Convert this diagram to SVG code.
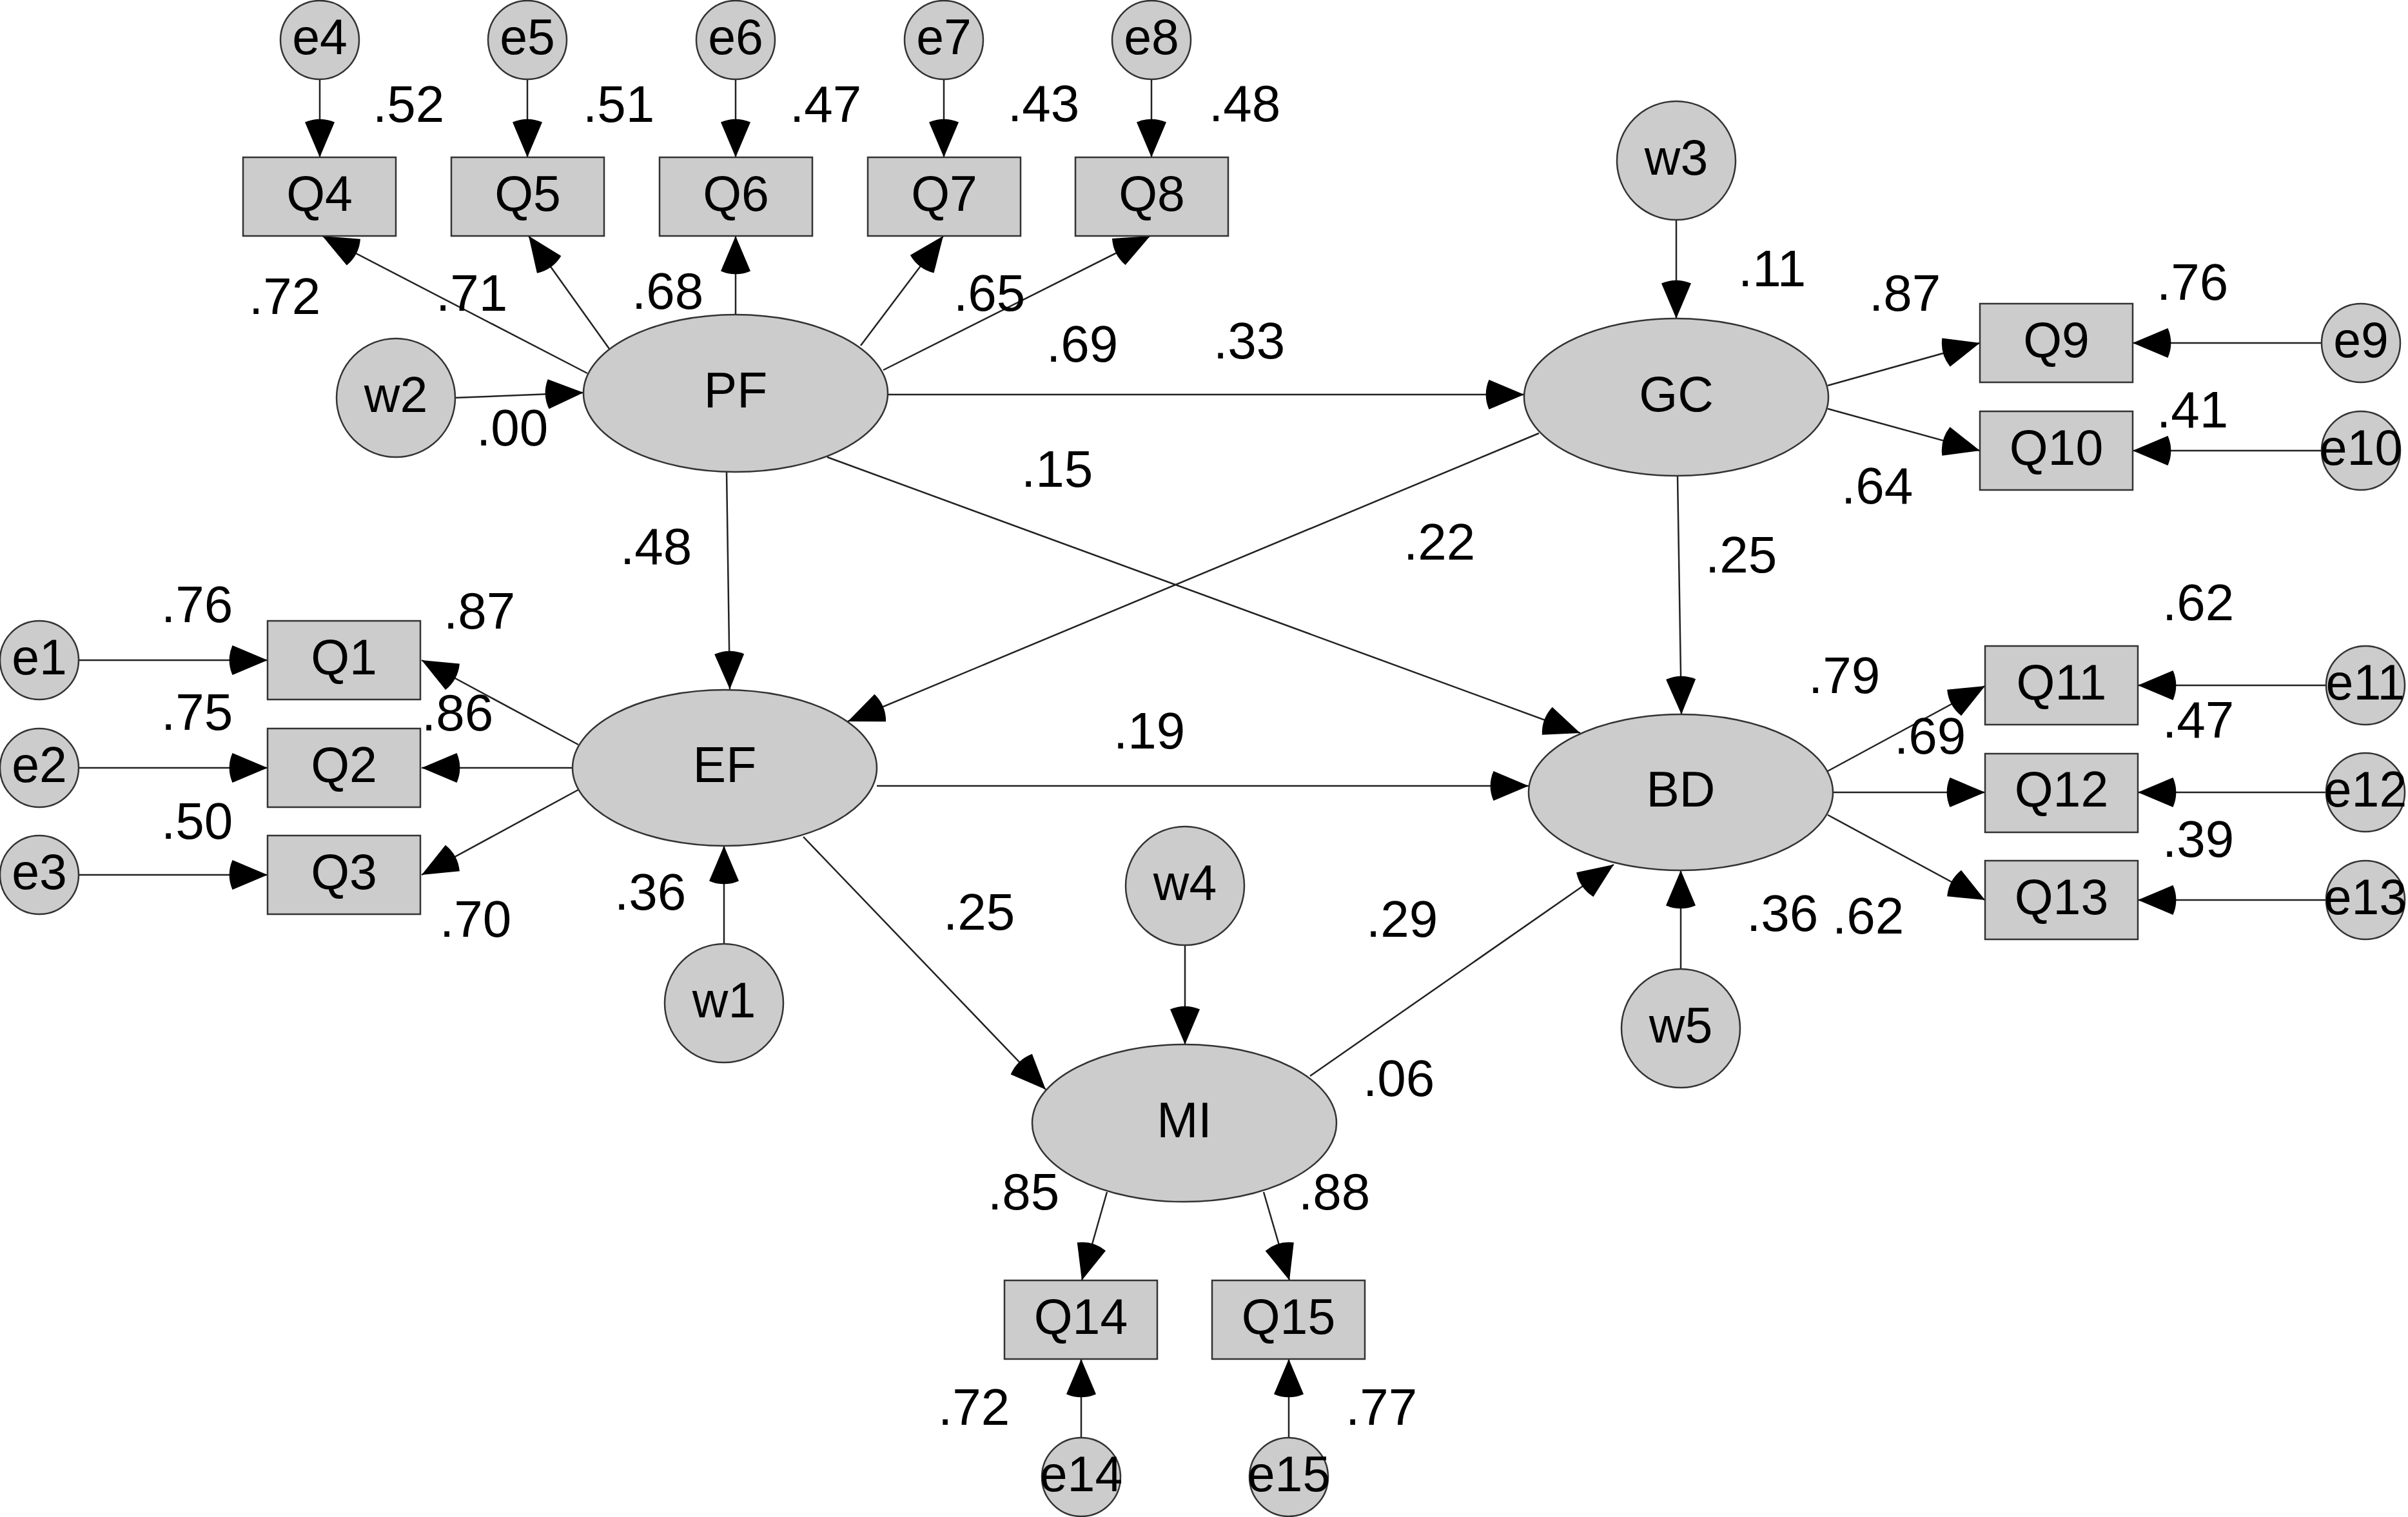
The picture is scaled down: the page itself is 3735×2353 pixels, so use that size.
<svg xmlns="http://www.w3.org/2000/svg" width="3735" height="2353" viewBox="0 0 3735 2353">
<style>
.n{fill:#cccccc;stroke:#333333;stroke-width:2.5}
.t{font-family:"Liberation Sans",Arial,sans-serif;font-size:77px;text-anchor:middle;fill:#000}
.l{font-family:"Liberation Sans",Arial,sans-serif;font-size:80px;fill:#000}
.c{stroke:#222222;stroke-width:2.5;fill:none;marker-end:url(#ah)}
</style>
<defs>
<marker id="ah" markerUnits="userSpaceOnUse" markerWidth="70" markerHeight="60" refX="0" refY="0" orient="auto" overflow="visible">
<path d="M0,0 L-54.5,-23 A59,59 0 0 0 -54.5,23 Z" fill="#000"/>
</marker>
</defs>
<rect width="3735" height="2353" fill="#fff"/>

<g id="connectors">
<line class="c" x1="496" y1="123" x2="496" y2="244"/>
<line class="c" x1="818" y1="123" x2="818" y2="244"/>
<line class="c" x1="1141" y1="123" x2="1141" y2="244"/>
<line class="c" x1="1464" y1="123" x2="1464" y2="244"/>
<line class="c" x1="1786" y1="123" x2="1786" y2="244"/>
<line class="c" x1="911" y1="579" x2="500" y2="366"/>
<line class="c" x1="945" y1="541" x2="820" y2="366"/>
<line class="c" x1="1141" y1="487" x2="1141" y2="366"/>
<line class="c" x1="1335" y1="536" x2="1463" y2="366"/>
<line class="c" x1="1370" y1="574" x2="1784" y2="366"/>
<line class="c" x1="705" y1="617" x2="905" y2="609"/>
<line class="c" x1="1378" y1="612" x2="2364" y2="612"/>
<line class="c" x1="1127" y1="732" x2="1132" y2="1069"/>
<line class="c" x1="1283" y1="709" x2="2451" y2="1137"/>
<line class="c" x1="2600" y1="341" x2="2600" y2="494"/>
<line class="c" x1="2835" y1="598" x2="3071" y2="532"/>
<line class="c" x1="2835" y1="634" x2="3071" y2="699"/>
<line class="c" x1="3601" y1="532" x2="3308" y2="532"/>
<line class="c" x1="3601" y1="699" x2="3308" y2="699"/>
<line class="c" x1="2602" y1="738" x2="2608" y2="1108"/>
<line class="c" x1="2387" y1="672" x2="1315" y2="1119"/>
<line class="c" x1="897" y1="1155" x2="654" y2="1024"/>
<line class="c" x1="889" y1="1191" x2="654" y2="1191"/>
<line class="c" x1="897" y1="1225" x2="654" y2="1357"/>
<line class="c" x1="122" y1="1024" x2="415" y2="1024"/>
<line class="c" x1="122" y1="1191" x2="415" y2="1191"/>
<line class="c" x1="122" y1="1357" x2="415" y2="1357"/>
<line class="c" x1="1123" y1="1464" x2="1123" y2="1312"/>
<line class="c" x1="1360" y1="1219" x2="2371" y2="1219"/>
<line class="c" x1="1246" y1="1298" x2="1622" y2="1690"/>
<line class="c" x1="1838" y1="1466" x2="1838" y2="1620"/>
<line class="c" x1="2032" y1="1669" x2="2503" y2="1341"/>
<line class="c" x1="2835" y1="1196" x2="3079" y2="1064"/>
<line class="c" x1="2843" y1="1229" x2="3079" y2="1229"/>
<line class="c" x1="2835" y1="1264" x2="3079" y2="1396"/>
<line class="c" x1="3608" y1="1063" x2="3316" y2="1063"/>
<line class="c" x1="3608" y1="1229" x2="3316" y2="1229"/>
<line class="c" x1="3608" y1="1396" x2="3316" y2="1396"/>
<line class="c" x1="2607" y1="1503" x2="2607" y2="1350"/>
<line class="c" x1="1717" y1="1849" x2="1678" y2="1986"/>
<line class="c" x1="1960" y1="1849" x2="2000" y2="1986"/>
<line class="c" x1="1677" y1="2230" x2="1677" y2="2108"/>
<line class="c" x1="1999" y1="2230" x2="1999" y2="2108"/>
</g>

<g id="PF"><ellipse class="n" cx="1141" cy="610" rx="236" ry="122"/><text class="t" x="1141" y="632">PF</text></g>
<g id="EF"><ellipse class="n" cx="1124" cy="1191" rx="236" ry="121"/><text class="t" x="1124" y="1213">EF</text></g>
<g id="GC"><ellipse class="n" cx="2600" cy="616" rx="236" ry="122"/><text class="t" x="2600" y="638">GC</text></g>
<g id="BD"><ellipse class="n" cx="2607" cy="1229" rx="236" ry="121"/><text class="t" x="2607" y="1251">BD</text></g>
<g id="MI"><ellipse class="n" cx="1837" cy="1742" rx="236" ry="122"/><text class="t" x="1837" y="1764">MI</text></g>

<g id="w1"><circle class="n" cx="1123" cy="1556" r="92"/><text class="t" x="1123" y="1578">w1</text></g>
<g id="w2"><circle class="n" cx="614" cy="617" r="92"/><text class="t" x="614" y="639">w2</text></g>
<g id="w3"><circle class="n" cx="2600" cy="249" r="92"/><text class="t" x="2600" y="271">w3</text></g>
<g id="w4"><circle class="n" cx="1838" cy="1374" r="92"/><text class="t" x="1838" y="1396">w4</text></g>
<g id="w5"><circle class="n" cx="2607" cy="1595" r="92"/><text class="t" x="2607" y="1617">w5</text></g>

<g id="Q1"><rect class="n" x="415" y="963" width="237" height="122"/><text class="t" x="533.5" y="1046">Q1</text></g>
<g id="Q2"><rect class="n" x="415" y="1130" width="237" height="122"/><text class="t" x="533.5" y="1213">Q2</text></g>
<g id="Q3"><rect class="n" x="415" y="1296" width="237" height="122"/><text class="t" x="533.5" y="1379">Q3</text></g>
<g id="Q4"><rect class="n" x="377" y="244" width="237" height="122"/><text class="t" x="495.5" y="327">Q4</text></g>
<g id="Q5"><rect class="n" x="700" y="244" width="237" height="122"/><text class="t" x="818.5" y="327">Q5</text></g>
<g id="Q6"><rect class="n" x="1023" y="244" width="237" height="122"/><text class="t" x="1141.5" y="327">Q6</text></g>
<g id="Q7"><rect class="n" x="1346" y="244" width="237" height="122"/><text class="t" x="1464.5" y="327">Q7</text></g>
<g id="Q8"><rect class="n" x="1668" y="244" width="237" height="122"/><text class="t" x="1786.5" y="327">Q8</text></g>
<g id="Q9"><rect class="n" x="3071" y="471" width="237" height="122"/><text class="t" x="3189.5" y="554">Q9</text></g>
<g id="Q10"><rect class="n" x="3071" y="638" width="237" height="122"/><text class="t" x="3189.5" y="721">Q10</text></g>
<g id="Q11"><rect class="n" x="3079" y="1002" width="237" height="122"/><text class="t" x="3197.5" y="1085">Q11</text></g>
<g id="Q12"><rect class="n" x="3079" y="1169" width="237" height="122"/><text class="t" x="3197.5" y="1251">Q12</text></g>
<g id="Q13"><rect class="n" x="3079" y="1335" width="237" height="122"/><text class="t" x="3197.5" y="1418">Q13</text></g>
<g id="Q14"><rect class="n" x="1558" y="1986" width="237" height="122"/><text class="t" x="1676.5" y="2069">Q14</text></g>
<g id="Q15"><rect class="n" x="1880" y="1986" width="237" height="122"/><text class="t" x="1998.5" y="2069">Q15</text></g>

<g id="e1"><circle class="n" cx="61" cy="1024" r="61"/><text class="t" x="61" y="1046">e1</text></g>
<g id="e2"><circle class="n" cx="61" cy="1191" r="61"/><text class="t" x="61" y="1213">e2</text></g>
<g id="e3"><circle class="n" cx="61" cy="1357" r="61"/><text class="t" x="61" y="1379">e3</text></g>
<g id="e4"><circle class="n" cx="496" cy="62" r="61"/><text class="t" x="496" y="84">e4</text></g>
<g id="e5"><circle class="n" cx="818" cy="62" r="61"/><text class="t" x="818" y="84">e5</text></g>
<g id="e6"><circle class="n" cx="1141" cy="62" r="61"/><text class="t" x="1141" y="84">e6</text></g>
<g id="e7"><circle class="n" cx="1464" cy="62" r="61"/><text class="t" x="1464" y="84">e7</text></g>
<g id="e8"><circle class="n" cx="1786" cy="62" r="61"/><text class="t" x="1786" y="84">e8</text></g>
<g id="e9"><circle class="n" cx="3662" cy="532" r="61"/><text class="t" x="3662" y="554">e9</text></g>
<g id="e10"><circle class="n" cx="3662" cy="699" r="61"/><text class="t" x="3662" y="721">e10</text></g>
<g id="e11"><circle class="n" cx="3669" cy="1063" r="61"/><text class="t" x="3669" y="1085">e11</text></g>
<g id="e12"><circle class="n" cx="3669" cy="1229" r="61"/><text class="t" x="3669" y="1251">e12</text></g>
<g id="e13"><circle class="n" cx="3669" cy="1396" r="61"/><text class="t" x="3669" y="1418">e13</text></g>
<g id="e14"><circle class="n" cx="1677" cy="2291" r="61"/><text class="t" x="1677" y="2313">e14</text></g>
<g id="e15"><circle class="n" cx="1999" cy="2291" r="61"/><text class="t" x="1999" y="2313">e15</text></g>

<g id="labels">
<text class="l" x="578" y="189">.52</text>
<text class="l" x="904" y="189">.51</text>
<text class="l" x="1225" y="189">.47</text>
<text class="l" x="1563" y="188">.43</text>
<text class="l" x="1875" y="188">.48</text>
<text class="l" x="386" y="487">.72</text>
<text class="l" x="676" y="482">.71</text>
<text class="l" x="980" y="479">.68</text>
<text class="l" x="1479" y="482">.65</text>
<text class="l" x="739" y="691">.00</text>
<text class="l" x="1623" y="561">.69</text>
<text class="l" x="1882" y="556">.33</text>
<text class="l" x="1584" y="755">.15</text>
<text class="l" x="962" y="875">.48</text>
<text class="l" x="2696" y="444">.11</text>
<text class="l" x="2899" y="482">.87</text>
<text class="l" x="3345" y="465">.76</text>
<text class="l" x="3345" y="663">.41</text>
<text class="l" x="2856" y="781">.64</text>
<text class="l" x="2645" y="888">.25</text>
<text class="l" x="2177" y="868">.22</text>
<text class="l" x="3354" y="962">.62</text>
<text class="l" x="250" y="965">.76</text>
<text class="l" x="688" y="975">.87</text>
<text class="l" x="250" y="1132">.75</text>
<text class="l" x="654" y="1133">.86</text>
<text class="l" x="250" y="1301">.50</text>
<text class="l" x="682" y="1453">.70</text>
<text class="l" x="953" y="1411">.36</text>
<text class="l" x="1727" y="1161">.19</text>
<text class="l" x="2805" y="1075">.79</text>
<text class="l" x="2938" y="1169">.69</text>
<text class="l" x="3354" y="1144">.47</text>
<text class="l" x="3354" y="1329">.39</text>
<text class="l" x="2709" y="1444">.36</text>
<text class="l" x="2842" y="1448">.62</text>
<text class="l" x="1463" y="1442">.25</text>
<text class="l" x="2119" y="1453">.29</text>
<text class="l" x="2114" y="1700">.06</text>
<text class="l" x="1532" y="1876">.85</text>
<text class="l" x="2014" y="1876">.88</text>
<text class="l" x="1455" y="2210">.72</text>
<text class="l" x="2087" y="2210">.77</text>
</g>
</svg>
